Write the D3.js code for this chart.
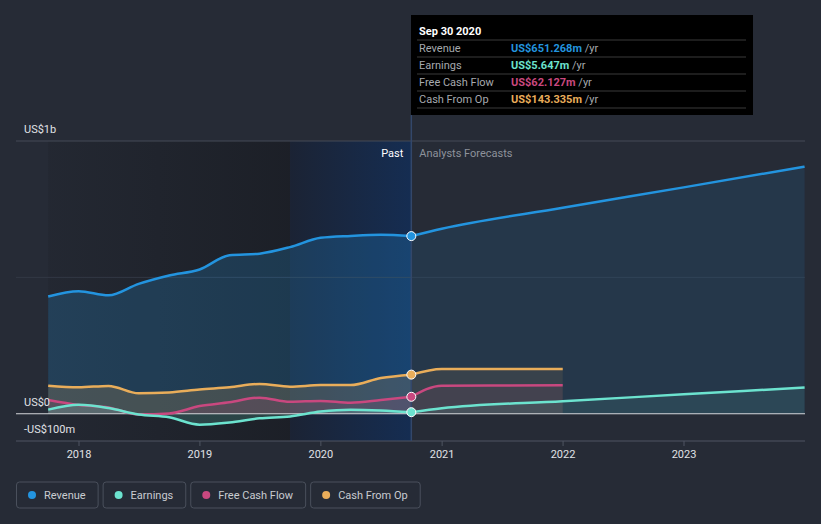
<!DOCTYPE html>
<html>
<head>
<meta charset="utf-8">
<script src="https://cdn.jsdelivr.net/npm/d3@7"></script>
<style>
  body { margin: 0; background: #262b36; }
  svg { display: block; font-family: Roboto, "Open Sans", sans-serif; }
</style>
</head>
<body>
<svg id="SVG_CONTAINER" width="821" height="524"></svg>
<script>
let d3 = window.d3;

// quarterly history (US$ m, trailing twelve months)
const pastDates    = ["2017-09-30","2017-12-31","2018-03-31","2018-06-30","2018-09-30","2018-12-31","2019-03-31","2019-06-30","2019-09-30","2019-12-31","2020-03-31","2020-06-30","2020-09-30"];
const revenuePast  = [430, 449, 434, 476, 507, 529, 581, 587, 611, 645, 652, 656, 651.268];
const earningsPast = [15, 33, 21, -3, -13, -40, -32, -17, -10, 8, 15, 12, 5.647];
const fcfPast      = [50, 32, 23, -3, 1, 28, 42, 59, 44, 47, 40, 50, 62.127];
const cfoPast      = [103, 97, 102, 75, 78, 89, 97, 109, 99, 105, 105, 131, 143.335];

// analyst forecasts
const fcDates     = ["2020-09-30","2020-12-31","2021-12-31","2022-12-31","2023-12-31"];
const revenueFc   = [651.268, 678, 755, 830, 906];
const earningsFc  = [5.647, 20, 46, 71, 96];
const cashFcDates = ["2020-09-30","2020-12-31","2021-12-31"];
const fcfFc       = [62.127, 103, 104];
const cfoFc       = [143.335, 164, 164];

const xTicks = [2018, 2019, 2020, 2021, 2022, 2023];
const yLabels = [{v: 1000, t: "US$1b"}, {v: 0, t: "US$0"}, {v: -100, t: "-US$100m"}];

const series = [
  {name: "Revenue",        color: "#2394df", past: revenuePast,  fc: revenueFc,  fcDates: fcDates,     tip: "US$651.268m", op: 0.22},
  {name: "Earnings",       color: "#6ce3cf", past: earningsPast, fc: earningsFc, fcDates: fcDates,     tip: "US$5.647m",   op: 0.18},
  {name: "Free Cash Flow", color: "#c9487f", past: fcfPast,      fc: fcfFc,      fcDates: cashFcDates, tip: "US$62.127m",  op: 0.14},
  {name: "Cash From Op",   color: "#e9ad5a", past: cfoPast,      fc: cfoFc,      fcDates: cashFcDates, tip: "US$143.335m", op: 0.18}
];

const parse = d3.timeParse("%Y-%m-%d");
const W = 821, H = 524;
const LEFT = 16, RIGHT = 805;

let svg = d3.select("#SVG_CONTAINER");

let xScale = d3.scaleTime()
  .domain([new Date(2018, 0, 1), new Date(2023, 0, 1)])
  .range([79, 684]);

let yScale = d3.scaleLinear()
  .domain([-100, 1000])
  .range([441, 141]);

let defs = svg.append("defs");
let g1 = defs.append("linearGradient").attr("id", "darkGrad");
g1.append("stop").attr("offset", "0%").attr("stop-color", "#14161b").attr("stop-opacity", 0.15);
g1.append("stop").attr("offset", "100%").attr("stop-color", "#14161b").attr("stop-opacity", 0.55);
let g2 = defs.append("linearGradient").attr("id", "blueGrad");
g2.append("stop").attr("offset", "0%").attr("stop-color", "#1b2334");
g2.append("stop").attr("offset", "100%").attr("stop-color", "#152d52");

svg.append("rect").attr("width", W).attr("height", H).attr("fill", "#262b36");

let start = parse(pastDates[0]),
    now = parse(pastDates[pastDates.length - 1]),
    yearAgo = parse(pastDates[pastDates.length - 5]);

// past shading
svg.append("rect")
  .attr("x", xScale(start)).attr("y", yScale(1000))
  .attr("width", xScale(yearAgo) - xScale(start))
  .attr("height", yScale(-100) - yScale(1000))
  .attr("fill", "url(#darkGrad)");
svg.append("rect")
  .attr("x", xScale(yearAgo)).attr("y", yScale(1000))
  .attr("width", xScale(now) - xScale(yearAgo))
  .attr("height", yScale(-100) - yScale(1000))
  .attr("fill", "url(#blueGrad)");

// gridlines
[1000, 500].forEach(v => {
  svg.append("line")
    .attr("x1", LEFT).attr("x2", RIGHT)
    .attr("y1", yScale(v)).attr("y2", yScale(v))
    .attr("stroke", v == 1000 ? "#454b57" : "#323845").attr("stroke-width", 1);
});

let area = d3.area()
  .x(d => xScale(d.date))
  .y0(yScale(0))
  .y1(d => yScale(d.value))
  .curve(d3.curveMonotoneX);

let line = d3.line()
  .x(d => xScale(d.date))
  .y(d => yScale(d.value))
  .curve(d3.curveMonotoneX);

let areaLayer = svg.append("g");

// zero line sits between the areas and the lines
let zeroLine = svg.append("line")
  .attr("x1", LEFT).attr("x2", RIGHT)
  .attr("y1", yScale(0)).attr("y2", yScale(0))
  .attr("stroke", "#d4d6da").attr("stroke-width", 1.2);

let lineLayer = svg.append("g");

// draw back to front: revenue, cfo, fcf, earnings
[0, 3, 2, 1].forEach(i => {
  let s = series[i];
  let pastData = pastDates.map((d, k) => ({date: parse(d), value: s.past[k]}));
  let fcData = s.fcDates.map((d, k) => ({date: parse(d), value: s.fc[k]}));

  areaLayer.append("path").datum(pastData)
    .attr("d", area).attr("fill", s.color).attr("fill-opacity", s.op);
  areaLayer.append("path").datum(fcData)
    .attr("d", area).attr("fill", s.color).attr("fill-opacity", s.op * 0.55);

  lineLayer.append("path").datum(pastData)
    .attr("d", line).attr("fill", "none").attr("stroke", s.color).attr("stroke-width", 2.5);
  lineLayer.append("path").datum(fcData)
    .attr("d", line).attr("fill", "none").attr("stroke", s.color).attr("stroke-width", 2.5);
});

// x axis
svg.append("line")
  .attr("x1", LEFT).attr("x2", RIGHT)
  .attr("y1", yScale(-100)).attr("y2", yScale(-100))
  .attr("stroke", "#4f5562");

let xAxis = svg.append("g");
xTicks.forEach(y => {
  let x = xScale(new Date(y, 0, 1));
  xAxis.append("line").attr("x1", x).attr("x2", x)
    .attr("y1", 441).attr("y2", 446).attr("stroke", "#4f5562");
  xAxis.append("text").attr("x", x).attr("y", 458)
    .attr("text-anchor", "middle").attr("font-size", "11px")
    .attr("fill", "#e0e2e6").text(y);
});

// now line
svg.append("line")
  .attr("x1", xScale(now)).attr("x2", xScale(now))
  .attr("y1", 115).attr("y2", 441)
  .attr("stroke", "#33476a").attr("stroke-width", 1.5);

// y labels
yLabels.forEach(l => {
  svg.append("text")
    .attr("x", 24).attr("y", yScale(l.v) - 8)
    .attr("font-size", "11px").attr("fill", "#e0e2e6").text(l.t);
});

svg.append("text").attr("x", xScale(now) - 8).attr("y", 157)
  .attr("text-anchor", "end").attr("font-size", "11px").attr("fill", "#ffffff").text("Past");
svg.append("text").attr("x", xScale(now) + 8).attr("y", 157)
  .attr("font-size", "11px").attr("fill", "#8d929b").text("Analysts Forecasts");

// end points
series.forEach(s => {
  svg.append("circle")
    .attr("cx", xScale(now)).attr("cy", yScale(s.past[s.past.length - 1]))
    .attr("r", 4.5).attr("fill", s.color)
    .attr("stroke", "#ffffff").attr("stroke-width", 1);
});

// tooltip
let tip = svg.append("g");
tip.append("rect").attr("x", 411).attr("y", 15).attr("width", 342).attr("height", 100).attr("fill", "#000000");
tip.append("text").attr("x", 419).attr("y", 35)
  .attr("font-size", "11px").attr("font-weight", "bold").attr("fill", "#ffffff").text("Sep 30 2020");
[40, 57, 74, 91, 108].forEach(y => {
  tip.append("line").attr("x1", 417).attr("x2", 746).attr("y1", y).attr("y2", y)
    .attr("stroke", "#3a3a3a");
});
series.forEach((s, i) => {
  let y = 52 + i * 17;
  tip.append("text").attr("x", 419).attr("y", y)
    .attr("font-size", "11px").attr("fill", "#a6a9ae").text(s.name);
  let t = tip.append("text").attr("x", 511).attr("y", y).attr("font-size", "11px");
  t.append("tspan").attr("fill", s.color).attr("font-weight", "bold").text(s.tip);
  t.append("tspan").attr("fill", "#a6a9ae").text(" /yr");
});

// legend
let lx = 16;
series.forEach(s => {
  let g = svg.append("g").attr("transform", "translate(" + lx + ",482)");
  let box = g.append("rect").attr("y", 0).attr("height", 26).attr("rx", 3)
    .attr("fill", "none").attr("stroke", "#4a505c");
  g.append("circle").attr("cx", 16).attr("cy", 13).attr("r", 4).attr("fill", s.color);
  let txt = g.append("text").attr("x", 28).attr("y", 17)
    .attr("font-size", "11px").attr("fill", "#c9ccd1").text(s.name);
  let w = 28 + txt.node().getComputedTextLength() + 12;
  box.attr("x", 0.5).attr("width", w);
  lx += w + 5;
});
</script>
</body>
</html>
